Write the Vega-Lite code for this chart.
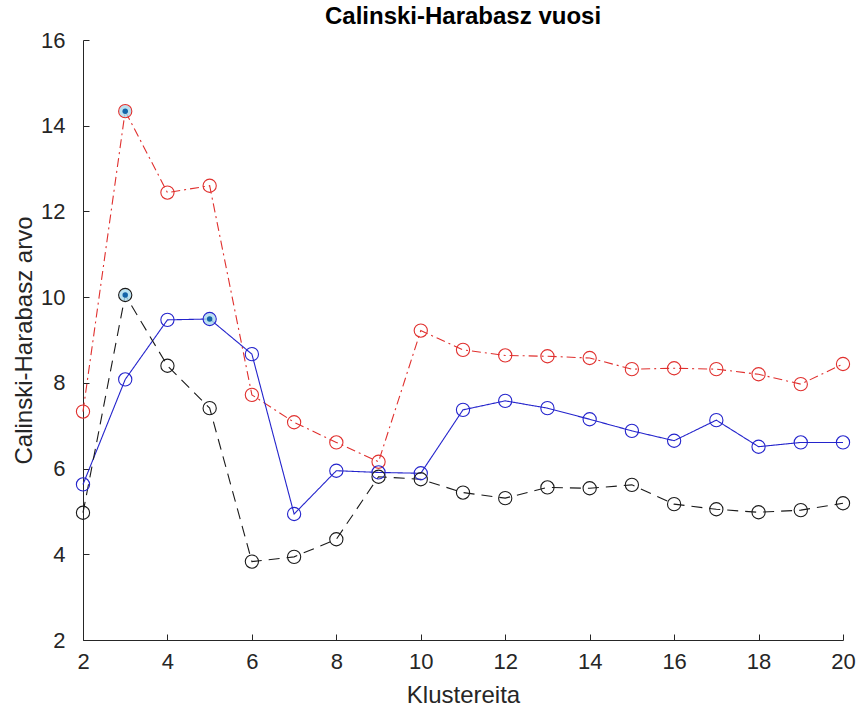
{
  "$schema": "https://vega.github.io/schema/vega-lite/v6.json",
  "width": 760,
  "height": 600,
  "autosize": {"type": "none"},
  "padding": {"left": 83, "top": 40, "right": 16, "bottom": 71},
  "background": "white",
  "title": {
    "text": "Calinski-Harabasz vuosi",
    "font": "Liberation Sans",
    "fontSize": 24,
    "fontWeight": "bold",
    "color": "#000000",
    "offset": 0,
    "anchor": "middle"
  },
  "config": {
    "view": {"stroke": null},
    "axis": {
      "grid": false,
      "domainColor": "#262626",
      "tickColor": "#262626",
      "labelColor": "#262626",
      "titleColor": "#262626",
      "labelFont": "Liberation Sans",
      "titleFont": "Liberation Sans",
      "labelFontSize": 22,
      "titleFontSize": 24,
      "titleFontWeight": "normal",
      "tickSize": -6,
      "domainWidth": 1,
      "tickWidth": 1,
      "labelFlush": false
    }
  },
  "data": {
    "values": [
      {"k": 2, "value": 7.33, "series": "red"},
      {"k": 3, "value": 14.34, "series": "red", "best": true},
      {"k": 4, "value": 12.44, "series": "red"},
      {"k": 5, "value": 12.6, "series": "red"},
      {"k": 6, "value": 7.72, "series": "red"},
      {"k": 7, "value": 7.08, "series": "red"},
      {"k": 8, "value": 6.61, "series": "red"},
      {"k": 9, "value": 6.16, "series": "red"},
      {"k": 10, "value": 9.22, "series": "red"},
      {"k": 11, "value": 8.77, "series": "red"},
      {"k": 12, "value": 8.64, "series": "red"},
      {"k": 13, "value": 8.62, "series": "red"},
      {"k": 14, "value": 8.58, "series": "red"},
      {"k": 15, "value": 8.32, "series": "red"},
      {"k": 16, "value": 8.34, "series": "red"},
      {"k": 17, "value": 8.32, "series": "red"},
      {"k": 18, "value": 8.2, "series": "red"},
      {"k": 19, "value": 7.97, "series": "red"},
      {"k": 20, "value": 8.44, "series": "red"},
      {"k": 2, "value": 5.63, "series": "blue"},
      {"k": 3, "value": 8.08, "series": "blue"},
      {"k": 4, "value": 9.47, "series": "blue"},
      {"k": 5, "value": 9.49, "series": "blue", "best": true},
      {"k": 6, "value": 8.67, "series": "blue"},
      {"k": 7, "value": 4.94, "series": "blue"},
      {"k": 8, "value": 5.95, "series": "blue"},
      {"k": 9, "value": 5.91, "series": "blue"},
      {"k": 10, "value": 5.89, "series": "blue"},
      {"k": 11, "value": 7.37, "series": "blue"},
      {"k": 12, "value": 7.58, "series": "blue"},
      {"k": 13, "value": 7.41, "series": "blue"},
      {"k": 14, "value": 7.15, "series": "blue"},
      {"k": 15, "value": 6.88, "series": "blue"},
      {"k": 16, "value": 6.65, "series": "blue"},
      {"k": 17, "value": 7.13, "series": "blue"},
      {"k": 18, "value": 6.51, "series": "blue"},
      {"k": 19, "value": 6.61, "series": "blue"},
      {"k": 20, "value": 6.61, "series": "blue"},
      {"k": 2, "value": 4.97, "series": "black"},
      {"k": 3, "value": 10.05, "series": "black", "best": true},
      {"k": 4, "value": 8.4, "series": "black"},
      {"k": 5, "value": 7.41, "series": "black"},
      {"k": 6, "value": 3.83, "series": "black"},
      {"k": 7, "value": 3.94, "series": "black"},
      {"k": 8, "value": 4.35, "series": "black"},
      {"k": 9, "value": 5.81, "series": "black"},
      {"k": 10, "value": 5.75, "series": "black"},
      {"k": 11, "value": 5.44, "series": "black"},
      {"k": 12, "value": 5.31, "series": "black"},
      {"k": 13, "value": 5.56, "series": "black"},
      {"k": 14, "value": 5.54, "series": "black"},
      {"k": 15, "value": 5.62, "series": "black"},
      {"k": 16, "value": 5.17, "series": "black"},
      {"k": 17, "value": 5.05, "series": "black"},
      {"k": 18, "value": 4.98, "series": "black"},
      {"k": 19, "value": 5.03, "series": "black"},
      {"k": 20, "value": 5.19, "series": "black"}
    ]
  },
  "encoding": {
    "x": {
      "field": "k",
      "type": "quantitative",
      "scale": {"domain": [2, 20], "nice": false, "zero": false},
      "axis": {"values": [2, 4, 6, 8, 10, 12, 14, 16, 18, 20], "title": "Klustereita", "labelPadding": 17, "titlePadding": 11}
    },
    "y": {
      "field": "value",
      "type": "quantitative",
      "scale": {"domain": [2, 16], "nice": false, "zero": false},
      "axis": {"values": [2, 4, 6, 8, 10, 12, 14, 16], "title": "Calinski-Harabasz arvo", "labelPadding": 24, "titlePadding": 4}
    },
    "color": {
      "field": "series",
      "type": "nominal",
      "scale": {"domain": ["red", "blue", "black"], "range": ["#e0302e", "#2424cc", "#1a1a1a"]},
      "legend": null
    }
  },
  "layer": [
    {
      "mark": {"type": "line", "strokeWidth": 1.1},
      "encoding": {
        "strokeDash": {
          "field": "series",
          "type": "nominal",
          "scale": {"domain": ["red", "blue", "black"], "range": [[9, 4, 2, 4], [1, 0], [11, 7]]},
          "legend": null
        }
      }
    },
    {
      "transform": [{"filter": "datum.best === true"}],
      "mark": {"type": "point", "shape": "circle", "filled": true, "size": 150, "color": "#a9d9ec", "opacity": 0.8},
      "encoding": {"color": {"value": "#a9d9ec"}}
    },
    {
      "mark": {"type": "point", "shape": "circle", "filled": false, "size": 175, "strokeWidth": 1.1, "opacity": 1}
    },
    {
      "transform": [{"filter": "datum.best === true"}],
      "mark": {"type": "point", "shape": "circle", "filled": true, "size": 30, "opacity": 1},
      "encoding": {"color": {"value": "#1464a8"}}
    }
  ]
}
